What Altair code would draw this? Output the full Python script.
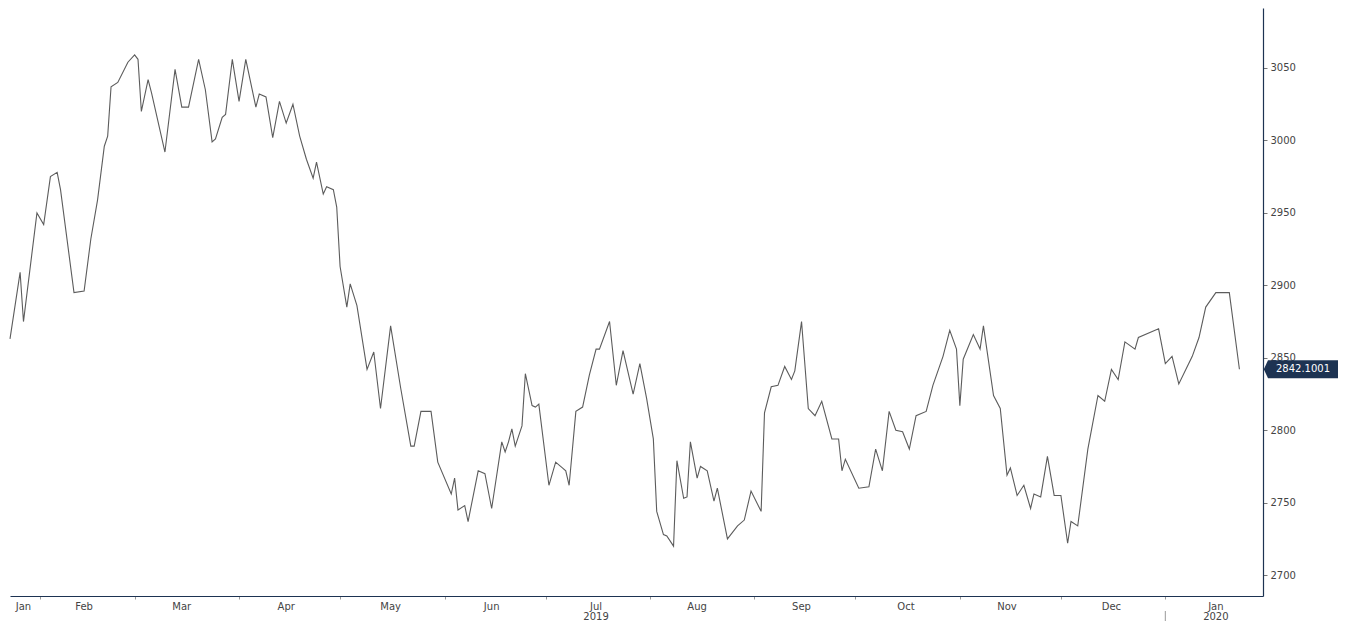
import altair as alt
import pandas as pd

# ---- data (daily close, Jan 2019 - Jan 2020) ----
dates = [
    "2019-01-23", "2019-01-26", "2019-01-27", "2019-01-31", "2019-02-02", "2019-02-04",
    "2019-02-06", "2019-02-07", "2019-02-11", "2019-02-14", "2019-02-16", "2019-02-18",
    "2019-02-20", "2019-02-21", "2019-02-22", "2019-02-24", "2019-02-27", "2019-03-01",
    "2019-03-02", "2019-03-03", "2019-03-05", "2019-03-06", "2019-03-10", "2019-03-13",
    "2019-03-15", "2019-03-17", "2019-03-20", "2019-03-22", "2019-03-24", "2019-03-25",
    "2019-03-27", "2019-03-28", "2019-03-30", "2019-04-01", "2019-04-03", "2019-04-06",
    "2019-04-07", "2019-04-09", "2019-04-11", "2019-04-13", "2019-04-15", "2019-04-17",
    "2019-04-19", "2019-04-21", "2019-04-23", "2019-04-24", "2019-04-26", "2019-04-27",
    "2019-04-29", "2019-04-30", "2019-05-01", "2019-05-03", "2019-05-04", "2019-05-06",
    "2019-05-09", "2019-05-11", "2019-05-13", "2019-05-16", "2019-05-19", "2019-05-22",
    "2019-05-23", "2019-05-25", "2019-05-28", "2019-05-30", "2019-06-03", "2019-06-04",
    "2019-06-05", "2019-06-07", "2019-06-08", "2019-06-11", "2019-06-13", "2019-06-15",
    "2019-06-18", "2019-06-19", "2019-06-20", "2019-06-21", "2019-06-22", "2019-06-24",
    "2019-06-25", "2019-06-27", "2019-06-28", "2019-06-29", "2019-07-02", "2019-07-04",
    "2019-07-06", "2019-07-07", "2019-07-08", "2019-07-10", "2019-07-12", "2019-07-14",
    "2019-07-16", "2019-07-17", "2019-07-20", "2019-07-22", "2019-07-24", "2019-07-27",
    "2019-07-29", "2019-07-31", "2019-08-02", "2019-08-03", "2019-08-05", "2019-08-06",
    "2019-08-08", "2019-08-09", "2019-08-11", "2019-08-12", "2019-08-13", "2019-08-15",
    "2019-08-16", "2019-08-18", "2019-08-20", "2019-08-21", "2019-08-24", "2019-08-27",
    "2019-08-29", "2019-08-31", "2019-09-03", "2019-09-04", "2019-09-06", "2019-09-08",
    "2019-09-10", "2019-09-12", "2019-09-13", "2019-09-15", "2019-09-17", "2019-09-19",
    "2019-09-21", "2019-09-24", "2019-09-26", "2019-09-27", "2019-09-28", "2019-10-02",
    "2019-10-05", "2019-10-07", "2019-10-09", "2019-10-11", "2019-10-13", "2019-10-15",
    "2019-10-17", "2019-10-19", "2019-10-22", "2019-10-24", "2019-10-27", "2019-10-29",
    "2019-10-31", "2019-11-01", "2019-11-02", "2019-11-05", "2019-11-07", "2019-11-08",
    "2019-11-11", "2019-11-13", "2019-11-15", "2019-11-16", "2019-11-18", "2019-11-20",
    "2019-11-22", "2019-11-23", "2019-11-25", "2019-11-27", "2019-11-29", "2019-12-01",
    "2019-12-03", "2019-12-04", "2019-12-06", "2019-12-09", "2019-12-12", "2019-12-14",
    "2019-12-16", "2019-12-18", "2019-12-20", "2019-12-23", "2019-12-24", "2019-12-30",
    "2020-01-01", "2020-01-03", "2020-01-05", "2020-01-09", "2020-01-11", "2020-01-13",
    "2020-01-16", "2020-01-20", "2020-01-23",
]
values = [
    2863, 2909, 2875, 2950, 2942, 2975,
    2978, 2966, 2895, 2896, 2932, 2959,
    2996, 3003, 3037, 3040, 3054, 3059,
    3056, 3020, 3042, 3033, 2992, 3049,
    3023, 3023, 3056, 3035, 2999, 3001,
    3016, 3018, 3056, 3027, 3056, 3023,
    3032, 3030, 3002, 3027, 3012, 3025,
    3003, 2987, 2974, 2985, 2963, 2968,
    2966, 2954, 2913, 2885, 2901, 2886,
    2842, 2854, 2815, 2872, 2829, 2789,
    2789, 2813, 2813, 2778, 2756, 2767,
    2745, 2748, 2737, 2772, 2770, 2746,
    2792, 2785, 2792, 2801, 2789, 2803,
    2839, 2817, 2816, 2818, 2762, 2778,
    2774, 2772, 2762, 2813, 2816, 2838,
    2856, 2856, 2875, 2831, 2855, 2825,
    2846, 2822, 2794, 2744, 2728, 2727,
    2720, 2779, 2753, 2754, 2792, 2767,
    2775, 2772, 2751, 2760, 2725, 2734,
    2738, 2758, 2744, 2812, 2830, 2831,
    2844, 2835, 2841, 2875, 2815, 2810,
    2820, 2794, 2794, 2772, 2780, 2760,
    2761, 2787, 2772, 2813, 2800, 2799,
    2787, 2810, 2813, 2831, 2851, 2869,
    2856, 2817, 2849, 2866, 2856, 2872,
    2824, 2815, 2769, 2774, 2755, 2762,
    2746, 2756, 2754, 2782, 2755, 2755,
    2722, 2737, 2734, 2787, 2824, 2820,
    2842, 2835, 2861, 2856, 2864, 2870,
    2846, 2851, 2832, 2851, 2864, 2885,
    2895, 2895, 2842.1001,
]

month_names = ["Jan", "Feb", "Mar", "Apr", "May", "Jun", "Jul",
               "Aug", "Sep", "Oct", "Nov", "Dec", "Jan"]
month_label_dates = ["2019-01-27", "2019-02-14", "2019-03-15", "2019-04-15",
                     "2019-05-16", "2019-06-15", "2019-07-16", "2019-08-15",
                     "2019-09-15", "2019-10-16", "2019-11-15", "2019-12-16",
                     "2020-01-16"]
month_starts = ["2019-02-01", "2019-03-01", "2019-04-01", "2019-05-01",
                "2019-06-01", "2019-07-01", "2019-08-01", "2019-09-01",
                "2019-10-01", "2019-11-01", "2019-12-01", "2020-01-01"]
year_names = ["2019", "2020"]
year_label_dates = ["2019-07-16", "2020-01-16"]
year_breaks = ["2020-01-01"]
x_range = ["2019-01-23", "2020-01-30"]
y_range = [2685.6, 3091.4]
y_ticks = [2700, 2750, 2800, 2850, 2900, 2950, 3000, 3050]

# ---- styling ----
W, H = 1253, 588
FONT = "DejaVu Sans"
NAVY = "#1d3352"
TEXT = "#444444"
LINE = "#5c5c5c"


def to_dt(s):
    t = pd.Timestamp(s)
    return alt.DateTime(year=t.year, month=t.month, date=t.day)


xscale = alt.Scale(domain=[to_dt(s) for s in x_range], nice=False)
yscale = alt.Scale(domain=y_range, nice=False, zero=False)

df = pd.DataFrame({"date": pd.to_datetime(dates), "value": values})
months_df = pd.DataFrame({"date": pd.to_datetime(month_label_dates), "name": month_names})
years_df = pd.DataFrame({"date": pd.to_datetime(year_label_dates), "name": year_names})
breaks_df = pd.DataFrame({"date": pd.to_datetime(year_breaks)})
last_df = pd.DataFrame({"value": [values[-1]], "label": [f"{values[-1]:.4f}"]})

xaxis = alt.Axis(values=[to_dt(s) for s in month_starts], labels=False, ticks=True,
                 tickSize=3, tickColor="#9a9a9a", domainColor=NAVY, domainWidth=1.2,
                 grid=False, title=None)
yaxis = alt.Axis(orient="right", values=y_ticks, format="d", grid=False, title=None,
                 tickSize=4, tickColor="#777777", domainColor=NAVY, domainWidth=1.2,
                 labelFont=FONT, labelFontSize=10, labelColor=TEXT, labelPadding=3)

X = alt.X("date:T", scale=xscale, axis=xaxis)
Y = alt.Y("value:Q", scale=yscale, axis=yaxis)

line = alt.Chart(df).mark_line(color=LINE, strokeWidth=1.1).encode(x=X, y=Y)

month_text = alt.Chart(months_df).mark_text(
    font=FONT, fontSize=10, color=TEXT, align="center", baseline="alphabetic"
).encode(x=X, y=alt.value(H + 14), text="name:N")

year_text = alt.Chart(years_df).mark_text(
    font=FONT, fontSize=10, color=TEXT, align="center", baseline="alphabetic"
).encode(x=X, y=alt.value(H + 24), text="name:N")

year_sep = alt.Chart(breaks_df).mark_rule(color="#9a9a9a", strokeWidth=1).encode(
    x=X, y=alt.value(H + 15), y2=alt.value(H + 25)
)

BOX = "M-1.12,0 L-1,-0.26 L1,-0.26 L1,0.26 L-1,0.26 Z"
last_box = alt.Chart(last_df).mark_point(
    shape=BOX, filled=True, size=70 * 70, color=NAVY, opacity=1, strokeWidth=0
).encode(x=alt.value(W + 40), y=Y)
last_text = alt.Chart(last_df).mark_text(
    font=FONT, fontSize=10, color="white", align="center", baseline="middle"
).encode(x=alt.value(W + 40), y=Y, text="label:N")

chart = alt.layer(line, month_text, year_sep, year_text, last_box, last_text).properties(
    width=W, height=H,
    autosize=alt.AutoSizeParams(type="none"),
    padding={"left": 2, "top": 0, "right": 76, "bottom": 26},
    background="white",
).configure_view(stroke=None)

chart.save("out.html", embed_options={"renderer": "svg", "actions": False})
